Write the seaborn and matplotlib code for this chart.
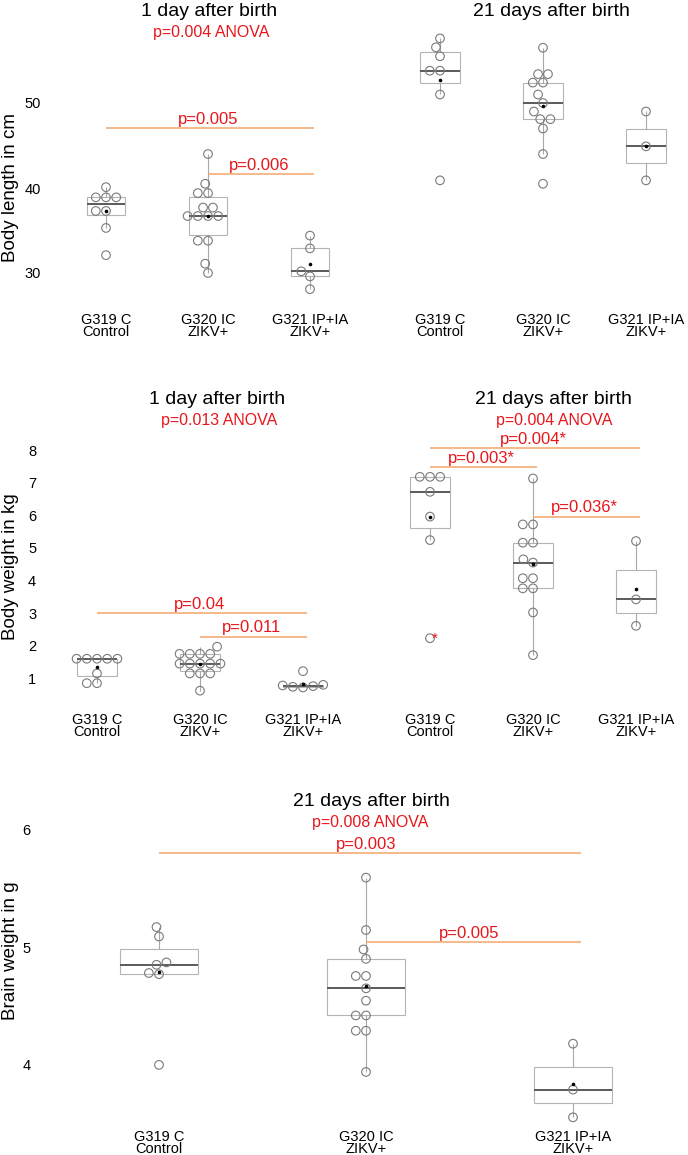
import pandas as pd
import seaborn as sns
import matplotlib.pyplot as plt

# groups on the x axis
groups = ["G319 C\nControl", "G320 IC\nZIKV+", "G321 IP+IA\nZIKV+"]

# body length (cm), 1 day and 21 days after birth
len_1d_g319 = [40.1, 38.9, 38.9, 38.9, 37.3, 37.3, 35.3, 32.1]
len_1d_g320 = [44.0, 40.5, 39.4, 39.4, 37.7, 37.7, 36.7, 36.7, 36.7, 36.7, 33.8, 33.8, 31.1, 30.0]
len_1d_g321 = [34.4, 32.9, 30.2, 29.6, 28.1]
len_21d_g319 = [57.6, 56.55, 55.5, 53.8, 53.8, 51.0, 40.9]
len_21d_g320 = [56.5, 53.4, 53.4, 52.4, 52.4, 51.0, 50.0, 49.0, 48.1, 48.1, 47.0, 44.0, 40.5]
len_21d_g321 = [49.0, 44.9, 40.9]

# body weight (kg)
wt_1d_g319 = [1.6, 1.6, 1.6, 1.6, 1.6, 1.15, 0.85, 0.85]
wt_1d_g320 = [1.97, 1.75, 1.75, 1.75, 1.75, 1.45, 1.45, 1.45, 1.45, 1.45, 1.15, 1.15, 1.15, 0.62]
wt_1d_g321 = [1.22, 0.80, 0.78, 0.76, 0.74, 0.72]
wt_21d_g319 = [7.18, 7.18, 7.18, 6.72, 5.96, 5.24, 2.23]
wt_21d_g320 = [7.13, 5.72, 5.72, 5.16, 5.16, 4.65, 4.55, 4.07, 4.07, 3.76, 3.76, 3.02, 1.71]
wt_21d_g321 = [5.21, 3.42, 2.61]

# brain weight (g), 21 days
brain_g319 = [5.17, 5.09, 4.87, 4.85, 4.78, 4.77, 4.0]
brain_g320 = [5.59, 5.145, 4.98, 4.90, 4.755, 4.755, 4.65, 4.545, 4.42, 4.42, 4.29, 4.29, 3.94]
brain_g321 = [4.18, 3.79, 3.555]

# pairwise tests: (group a, group b, height, label)
len_1d_tests = [(0, 2, 47.0, "p=0.005"), (1, 2, 41.6, "p=0.006")]
wt_1d_tests = [(0, 2, 3.0, "p=0.04"), (1, 2, 2.28, "p=0.011")]
wt_21d_tests = [(0, 2, 8.05, "p=0.004*"), (0, 1, 7.49, "p=0.003*"), (1, 2, 5.96, "p=0.036*")]
brain_tests = [(0, 2, 5.80, "p=0.003"), (1, 2, 5.04, "p=0.005")]

RED = "#e8161b"
ORANGE = "#f5a66a"

sns.set_style("white")
plt.rcParams['font.family'] = ['Liberation Sans', 'DejaVu Sans']
plt.rcParams['text.color'] = 'black'
plt.rcParams['xtick.labelcolor'] = 'black'
plt.rcParams['ytick.labelcolor'] = 'black'

W, H = 688, 1155
fig = plt.figure(figsize=(W / 100, H / 100), dpi=100)


def frame(*cols):
    rows = []
    for g, vals in zip(groups, cols):
        for v in vals:
            rows.append((g, v))
    return pd.DataFrame(rows, columns=["group", "value"])


def panel(df, x0, step, xlim, yref, vref, ppu, ytop, ybot, tests, yticks):
    left = x0 + xlim[0] * step
    right = x0 + xlim[1] * step
    ax = fig.add_axes([left / W, 1 - ybot / H, (right - left) / W, (ybot - ytop) / H])
    ax.set_facecolor("none")
    ylim = (vref + (yref - ybot) / ppu, vref + (yref - ytop) / ppu)

    sns.boxplot(data=df, x="group", y="value", order=groups, ax=ax, width=0.38,
                color="white", linecolor="#b4b4b4", linewidth=0.8,
                showfliers=False, showcaps=False,
                medianprops=dict(color="#5a5a5a", linewidth=1.4),
                whiskerprops=dict(color="#a8a8a8", linewidth=0.8))
    n0 = len(ax.collections)
    sns.swarmplot(data=df, x="group", y="value", order=groups, ax=ax, size=6.2,
                  color="#7a7a7a", edgecolor="#7a7a7a", linewidth=0.8)
    for c in ax.collections[n0:]:
        c.set_facecolor("none")
    n1 = len(ax.lines)
    sns.pointplot(data=df, x="group", y="value", order=groups, ax=ax,
                  estimator="mean", errorbar=None, color="black",
                  marker="o", markersize=2.6, markeredgewidth=0, linestyle="none")
    for ln in ax.lines[n1:]:
        ln.set_zorder(10)

    for a, b, y, lab in tests:
        ax.hlines(y, a, b + 0.04, color=ORANGE, linewidth=1.1)
        ax.annotate(lab, xy=((a + b) / 2, y), xytext=(0, 3), textcoords="offset points",
                    ha="center", va="baseline", color=RED, fontsize=12)

    ax.set_xlim(xlim)
    ax.set_ylim(ylim)
    ax.set_xlabel("")
    ax.set_ylabel("")
    sns.despine(ax=ax, left=True, bottom=True)
    ax.tick_params(axis="x", length=0, pad=3.6, labelsize=10.5)
    for t in ax.get_xticklabels():
        t.set_linespacing(0.85)
    if yticks:
        ax.set_yticks(yticks)
        ax.tick_params(axis="y", length=2, width=0.6, color="#aaaaaa", pad=1, labelsize=10.5)
    else:
        ax.set_yticks([])
    return ax


def fig_text(x, y, s, **kw):
    fig.text(x / W, 1 - y / H, s, ha="center", va="center", **kw)


# top row: body length
panel(frame(len_1d_g319, len_1d_g320, len_1d_g321), 106, 102, (-0.6, 2.45),
      273, 30, 8.5, 40, 308, len_1d_tests, [30, 40, 50])
panel(frame(len_21d_g319, len_21d_g320, len_21d_g321), 440, 103, (-0.8, 2.4),
      273, 30, 8.5, 30, 308, [], None)

# middle row: body weight
ax_w21 = panel(frame(wt_21d_g319, wt_21d_g320, wt_21d_g321), 430, 103, (-0.8, 2.4),
               678.3, 1, 32.6, 430, 708, wt_21d_tests, None)
ax_w21.text(0.05, 2.1, "*", color=RED, fontsize=11, ha="center", va="baseline")
panel(frame(wt_1d_g319, wt_1d_g320, wt_1d_g321), 97, 103, (-0.55, 2.45),
      678.3, 1, 32.6, 430, 708, wt_1d_tests, [1, 2, 3, 4, 5, 6, 7, 8])

# bottom row: brain weight
panel(frame(brain_g319, brain_g320, brain_g321), 159, 207, (-0.6, 2.5),
      829.3, 6, 117.8, 815, 1125, brain_tests, [4, 5, 6])

# titles
fig_text(209, 12, "1 day after birth", fontsize=14)
fig_text(211, 33, "p=0.004 ANOVA", fontsize=11.5, color=RED)
fig_text(551, 12, "21 days after birth", fontsize=14)
fig_text(217, 400, "1 day after birth", fontsize=14)
fig_text(219, 421, "p=0.013 ANOVA", fontsize=11.5, color=RED)
fig_text(553, 400, "21 days after birth", fontsize=14)
fig_text(554, 421, "p=0.004 ANOVA", fontsize=11.5, color=RED)
fig_text(371, 802, "21 days after birth", fontsize=14)
fig_text(370, 822, "p=0.008 ANOVA", fontsize=11.5, color=RED)

# y axis labels
fig_text(11, 188, "Body length in cm", fontsize=13.5, rotation=90)
fig_text(11, 567, "Body weight in kg", fontsize=13.5, rotation=90)
fig_text(11, 951, "Brain weight in g", fontsize=13.5, rotation=90)

fig.savefig("out.png", dpi=100)
